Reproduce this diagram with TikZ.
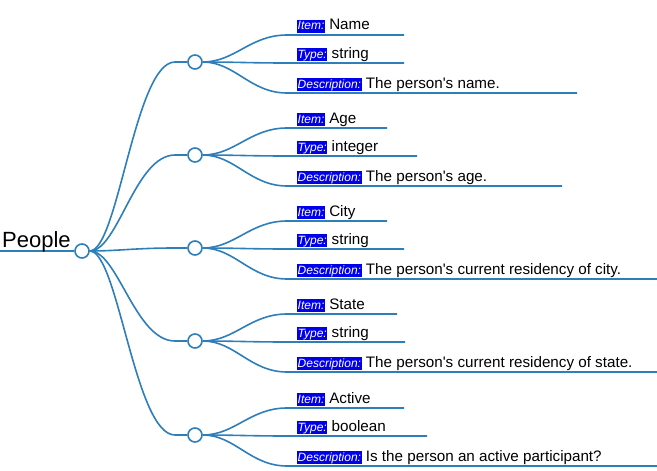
\documentclass[tikz,border=0pt]{standalone}
\usepackage{fontspec}
\usetikzlibrary{backgrounds}
\newfontfamily\lsans{Liberation Sans}
\definecolor{mmblue}{RGB}{46,126,186}
\definecolor{lblblue}{RGB}{0,0,235}
\begin{document}
\begin{tikzpicture}[x=1pt,y=-1pt,
  edge/.style={draw=mmblue, line width=1.6pt},
  knob/.style={circle, draw=mmblue, fill=white, line width=1.6pt, minimum size=14pt, inner sep=0pt},
  lbl/.style={fill=lblblue, text=white, font=\lsans\itshape\fontsize{12}{12}\selectfont, inner xsep=0.5pt, inner ysep=0pt, text height=9.8pt, text depth=3pt, anchor=base west},
  val/.style={font=\lsans\fontsize{15.2}{15.2}\selectfont, inner sep=0pt, anchor=base west},
  roottext/.style={font=\lsans\fontsize{22}{22}\selectfont, inner sep=0pt, anchor=base west}]
\useasboundingbox (0,0) rectangle (657,471);

\node[roottext] (ptext) at (2,247) {People};
\coordinate (rootL) at (0,251);
\node[knob] (root) at (82,251) {};
\begin{scope}[on background layer]
  \draw[edge] (rootL) -- (root.west);
\end{scope}

\foreach \i/\cy/\Ia/\Ib/\Ic/\ea/\eb/\ec in {
  1/62/Name/string/The person's name./404/404/577,
  2/155/Age/integer/The person's age./387/417/562,
  3/248/City/string/The person's current residency of city./387/404/657,
  4/341/State/string/The person's current residency of state./397/405/657,
  5/435/Active/boolean/Is the person an active participant?/404/427/657}{
  \node[knob] (c\i) at (195,\cy) {};
  \coordinate (k\i) at (175,\cy);
  \foreach \j/\dy/\txt/\ex/\lab in {a/-27/\Ia/\ea/Item:, b/1/\Ib/\eb/Type:, c/31/\Ic/\ec/Description:}{
    \coordinate (s\i\j) at (287,\cy+\dy);
    \coordinate (e\i\j) at (\ex,\cy+\dy);
    \node[lbl] (l\i\j) at (297,\cy+\dy-5) {\lab};
    \node[val] (v\i\j) at ([xshift=4pt]l\i\j.base east) {\txt};
    \begin{scope}[on background layer]
      \draw[edge] (c\i.east) .. controls (235,\cy) and (250,\cy+\dy) .. (s\i\j) -- (e\i\j);
    \end{scope}
  }
  \begin{scope}[on background layer]
    \draw[edge] (root.east) .. controls (118,251) and (135,\cy) .. (k\i) -- (c\i.west);
  \end{scope}
}
\end{tikzpicture}
\end{document}
